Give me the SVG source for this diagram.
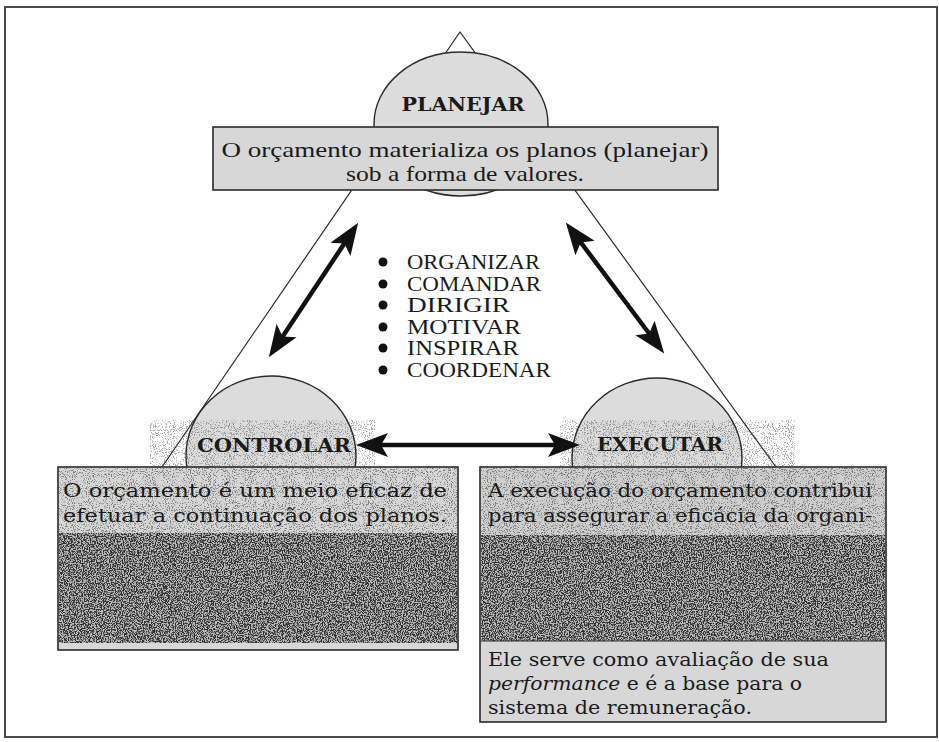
<svg xmlns="http://www.w3.org/2000/svg" width="939" height="742" viewBox="0 0 939 742">
  <style>
    .frame { fill: none; stroke: #4a4a4a; stroke-width: 2; }
    .bubble { fill: #dcdcdc; stroke: #2a2a2a; stroke-width: 1.4; }
    .box { fill: #d7d7d7; stroke: #2a2a2a; stroke-width: 1.6; }
    .edge { fill: none; stroke: #2a2a2a; stroke-width: 1.2; }
    .arrow { fill: none; stroke: #111; stroke-width: 4.5; marker-start: url(#head); marker-end: url(#head); }
    .title { font-family: "DejaVu Serif", "Liberation Serif", serif; font-weight: bold; font-size: 18px; fill: #1a1a1a; text-anchor: middle; }
    .body { font-family: "DejaVu Serif", "Liberation Serif", serif; font-size: 19px; fill: #1a1a1a; }
    .cond { font-family: "Liberation Serif", "DejaVu Serif", serif; font-size: 22px; fill: #1a1a1a; text-anchor: middle; }
    .item { font-family: "Liberation Serif", "DejaVu Serif", serif; font-size: 20px; fill: #1a1a1a; }
  </style>
  <defs>
    <marker id="head" viewBox="-1 -14 35 28" refX="10" refY="0" markerWidth="35" markerHeight="28" markerUnits="userSpaceOnUse" orient="auto-start-reverse">
      <path d="M0,-12 L32,0 L0,12 L7,0 Z" fill="#111"/>
    </marker>
    <!-- salt-and-pepper grain, full coverage -->
    <filter id="grain" x="0" y="0" width="100%" height="100%" color-interpolation-filters="sRGB">
      <feTurbulence type="fractalNoise" baseFrequency="0.85" numOctaves="2" seed="4" result="n"/>
      <feColorMatrix in="n" type="matrix" values="6 0 0 0 -2.5  6 0 0 0 -2.5  6 0 0 0 -2.5  0 0 0 0 1" result="g"/>
      <feComposite in="g" in2="SourceGraphic" operator="in"/>
    </filter>
    <!-- sparse dark specks -->
    <filter id="specks" x="0" y="0" width="100%" height="100%" color-interpolation-filters="sRGB">
      <feTurbulence type="fractalNoise" baseFrequency="0.95" numOctaves="2" seed="13" result="n"/>
      <feColorMatrix in="n" type="matrix" values="0 0 0 0 0.15  0 0 0 0 0.15  0 0 0 0 0.15  7 0 0 0 -3.7" result="g"/>
      <feComposite in="g" in2="SourceGraphic" operator="in"/>
    </filter>
  </defs>

  <rect width="939" height="742" fill="#ffffff"/>
  <!-- page frame -->
  <path class="frame" d="M5,7 H937 V737 H5 Z"/>

  <!-- lower left node: controlar -->
  <g id="node-controlar">
    <ellipse class="bubble" cx="271" cy="456" rx="85" ry="80"/>
  </g>
  <!-- lower right node: executar -->
  <g id="node-executar">
    <ellipse class="bubble" cx="657" cy="458" rx="85" ry="80"/>
  </g>

  <g id="connectors">
    <polyline class="edge" points="162,467 460,32 776,467"/>
    <line class="arrow" x1="346" y1="241" x2="281" y2="339"/>
    <line class="arrow" x1="579" y1="240" x2="651" y2="336"/>
    <line class="arrow" x1="378" y1="445" x2="558" y2="445"/>
  </g>

  <!-- grain around the lower labels -->
  <rect x="150" y="420" width="225" height="48" fill="#fff" filter="url(#specks)" opacity="0.4"/>
  <rect x="560" y="420" width="235" height="48" fill="#fff" filter="url(#specks)" opacity="0.4"/>

  <g id="label-controlar">
    <text class="title" x="274" y="452" textLength="154" lengthAdjust="spacingAndGlyphs">CONTROLAR</text>
  </g>
  <g id="label-executar">
    <text class="title" x="660" y="451" textLength="126" lengthAdjust="spacingAndGlyphs">EXECUTAR</text>
  </g>

  <!-- top node: planejar -->
  <g id="node-planejar">
    <ellipse class="bubble" cx="461" cy="124" rx="87" ry="72"/>
    <text class="title" x="463" y="111" textLength="123" lengthAdjust="spacingAndGlyphs">PLANEJAR</text>
    <rect class="box" x="213" y="127" width="505" height="63"/>
    <text class="cond" x="465" y="157" textLength="487" lengthAdjust="spacingAndGlyphs">O orçamento materializa os planos (planejar)</text>
    <text class="cond" x="465" y="181" textLength="238" lengthAdjust="spacingAndGlyphs">sob a forma de valores.</text>
  </g>

  <!-- functions in the centre -->
  <g id="node-functions">
    <circle cx="383" cy="262" r="4.5" fill="#111"/>
    <circle cx="383" cy="284" r="4.5" fill="#111"/>
    <circle cx="383" cy="305" r="4.5" fill="#111"/>
    <circle cx="383" cy="327" r="4.5" fill="#111"/>
    <circle cx="383" cy="348" r="4.5" fill="#111"/>
    <circle cx="383" cy="370" r="4.5" fill="#111"/>
    <text class="item" x="407" y="269" textLength="133" lengthAdjust="spacingAndGlyphs">ORGANIZAR</text>
    <text class="item" x="407" y="291" textLength="134" lengthAdjust="spacingAndGlyphs">COMANDAR</text>
    <text class="item" x="407" y="312" textLength="103" lengthAdjust="spacingAndGlyphs">DIRIGIR</text>
    <text class="item" x="407" y="334" textLength="114" lengthAdjust="spacingAndGlyphs">MOTIVAR</text>
    <text class="item" x="407" y="355" textLength="112" lengthAdjust="spacingAndGlyphs">INSPIRAR</text>
    <text class="item" x="407" y="377" textLength="144" lengthAdjust="spacingAndGlyphs">COORDENAR</text>
  </g>

  <!-- controlar text box -->
  <g id="box-controlar">
    <rect class="box" x="58" y="467" width="400" height="183" fill="#cfcfcf"/>
    <rect x="59" y="468" width="398" height="66" fill="#fff" filter="url(#specks)" opacity="0.5"/>
    <rect x="59" y="533" width="398" height="110" fill="#6c6c6c"/>
    <rect x="59" y="533" width="398" height="110" fill="#fff" filter="url(#grain)" opacity="0.55"/>
    <text class="body" x="63" y="497" textLength="384" lengthAdjust="spacingAndGlyphs">O orçamento é um meio eficaz de</text>
    <text class="body" x="63" y="522" textLength="384" lengthAdjust="spacingAndGlyphs">efetuar a continuação dos planos.</text>
  </g>

  <!-- executar text box -->
  <g id="box-executar">
    <rect class="box" x="480" y="467" width="406" height="255"/>
    <rect x="481" y="468" width="404" height="68" fill="#cfcfcf"/>
    <rect x="481" y="468" width="404" height="68" fill="#fff" filter="url(#specks)" opacity="0.5"/>
    <rect x="481" y="535" width="404" height="106" fill="#6c6c6c"/>
    <rect x="481" y="535" width="404" height="106" fill="#fff" filter="url(#grain)" opacity="0.55"/>
    <line x1="481" y1="641" x2="885" y2="641" stroke="#2a2a2a" stroke-width="1.2"/>
    <text class="body" x="488" y="497" textLength="384" lengthAdjust="spacingAndGlyphs">A execução do orçamento contribui</text>
    <text class="body" x="488" y="522" textLength="384" lengthAdjust="spacingAndGlyphs">para assegurar a eficácia da organi-</text>
    <text class="body" x="488" y="666" textLength="341" lengthAdjust="spacingAndGlyphs">Ele serve como avaliação de sua</text>
    <text class="body" x="488" y="690" textLength="314" lengthAdjust="spacingAndGlyphs"><tspan font-style="italic">performance</tspan> e é a base para o</text>
    <text class="body" x="488" y="714" textLength="264" lengthAdjust="spacingAndGlyphs">sistema de remuneração.</text>
  </g>
</svg>
